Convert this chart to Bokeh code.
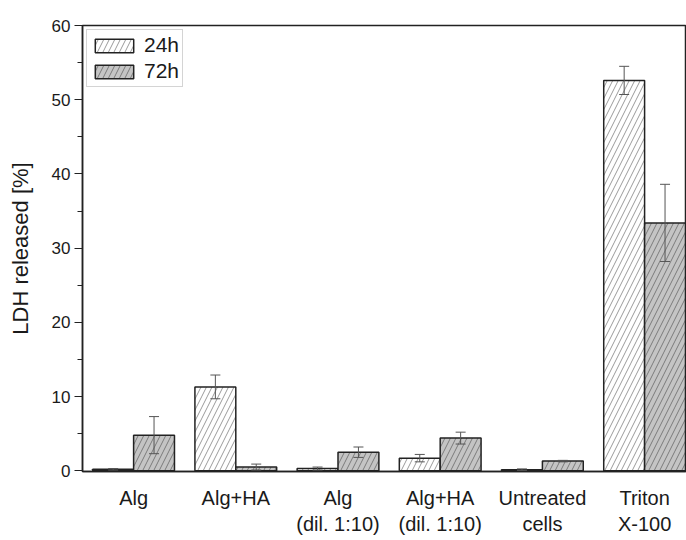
from bokeh.plotting import figure
from bokeh.models import ColumnDataSource, Whisker, Range1d, FixedTicker, TeeHead
from bokeh.embed import file_html
from bokeh.resources import INLINE

# LDH release per treatment, mean and error after 24 h and 72 h
categories = ["Alg", "Alg+HA", "Alg\n(dil. 1:10)", "Alg+HA\n(dil. 1:10)",
              "Untreated\ncells", "Triton\nX-100"]
ldh_24h = [0.2, 11.3, 0.3, 1.7, 0.15, 52.6]
err_24h = [0.1, 1.6, 0.2, 0.5, 0.1, 1.9]
ldh_72h = [4.8, 0.5, 2.5, 4.4, 1.3, 33.4]
err_72h = [2.5, 0.4, 0.7, 0.8, 0.1, 5.2]
y_ticks = [0, 10, 20, 30, 40, 50, 60]

FONT = "Liberation Sans"
TEXT = "#1a1a1a"

pos = list(range(1, len(categories) + 1))
bar_w = 0.4

src24 = ColumnDataSource(dict(
    x=[i - bar_w / 2 for i in pos], top=ldh_24h,
    upper=[v + e for v, e in zip(ldh_24h, err_24h)],
    lower=[v - e for v, e in zip(ldh_24h, err_24h)]))
src72 = ColumnDataSource(dict(
    x=[i + bar_w / 2 for i in pos], top=ldh_72h,
    upper=[v + e for v, e in zip(ldh_72h, err_72h)],
    lower=[v - e for v, e in zip(ldh_72h, err_72h)]))

p = figure(width=686, height=540, output_backend="svg", toolbar_location=None,
           x_range=Range1d(0.5, 6.41), y_range=Range1d(-0.1, 60),
           min_border_left=82, min_border_right=0, min_border_top=25,
           min_border_bottom=69)

p.vbar(x="x", top="top", bottom=0, width=bar_w, source=src24,
       fill_color="white", line_color="#222222", line_width=1.5,
       hatch_pattern="/", hatch_color="#9a9a9a", hatch_scale=11,
       hatch_weight=1, legend_label="24h")
p.vbar(x="x", top="top", bottom=0, width=bar_w, source=src72,
       fill_color="#c4c4c4", line_color="#222222", line_width=1.5,
       hatch_pattern="/", hatch_color="#7a7a7a", hatch_scale=11,
       hatch_weight=1, legend_label="72h")

for src in (src24, src72):
    w = Whisker(base="x", upper="upper", lower="lower", source=src,
                line_color="#555555", line_width=1, level="overlay",
                upper_head=TeeHead(size=10, line_color="#555555", line_width=1),
                lower_head=TeeHead(size=10, line_color="#555555", line_width=1))
    p.add_layout(w)

p.grid.visible = False
p.outline_line_color = "#222222"
p.outline_line_width = 1.5

# x axis: category names under each pair of bars, no tick marks
xa = p.xaxis[0]
xa.ticker = FixedTicker(ticks=pos)
xa.major_label_overrides = {i: c for i, c in zip(pos, categories)}
xa.major_tick_out = 0
xa.major_tick_in = 0
xa.minor_tick_out = 0
xa.minor_tick_in = 0
xa.axis_line_width = 1.5
xa.axis_line_color = "#222222"
xa.major_label_standoff = 15
xa.major_label_text_font = FONT
xa.major_label_text_font_size = "20px"
xa.major_label_text_color = TEXT

ya = p.yaxis[0]
ya.ticker = FixedTicker(ticks=y_ticks, minor_ticks=[5, 15, 25, 35, 45, 55])
ya.major_tick_out = 8
ya.major_tick_in = 0
ya.minor_tick_out = 5
ya.minor_tick_in = 0
ya.axis_line_width = 1.5
ya.axis_line_color = "#222222"
ya.major_tick_line_color = "#222222"
ya.minor_tick_line_color = "#222222"
ya.major_label_standoff = 4
ya.major_label_text_font = FONT
ya.major_label_text_font_size = "17px"
ya.major_label_text_color = TEXT
ya.axis_label = "LDH released [%]"
ya.axis_label_text_font = FONT
ya.axis_label_text_font_size = "22px"
ya.axis_label_text_font_style = "normal"
ya.axis_label_text_color = TEXT
ya.axis_label_standoff = 16

lg = p.legend[0]
lg.location = "top_left"
lg.margin = 4
lg.padding = 3
lg.spacing = 2
lg.glyph_width = 48
lg.glyph_height = 17
lg.label_standoff = 6
lg.label_text_font = FONT
lg.label_text_font_size = "21px"
lg.label_text_color = TEXT
lg.border_line_color = "#aaaaaa"
lg.border_line_width = 1
lg.background_fill_alpha = 1

open("out.html", "w").write(file_html(p, INLINE))
